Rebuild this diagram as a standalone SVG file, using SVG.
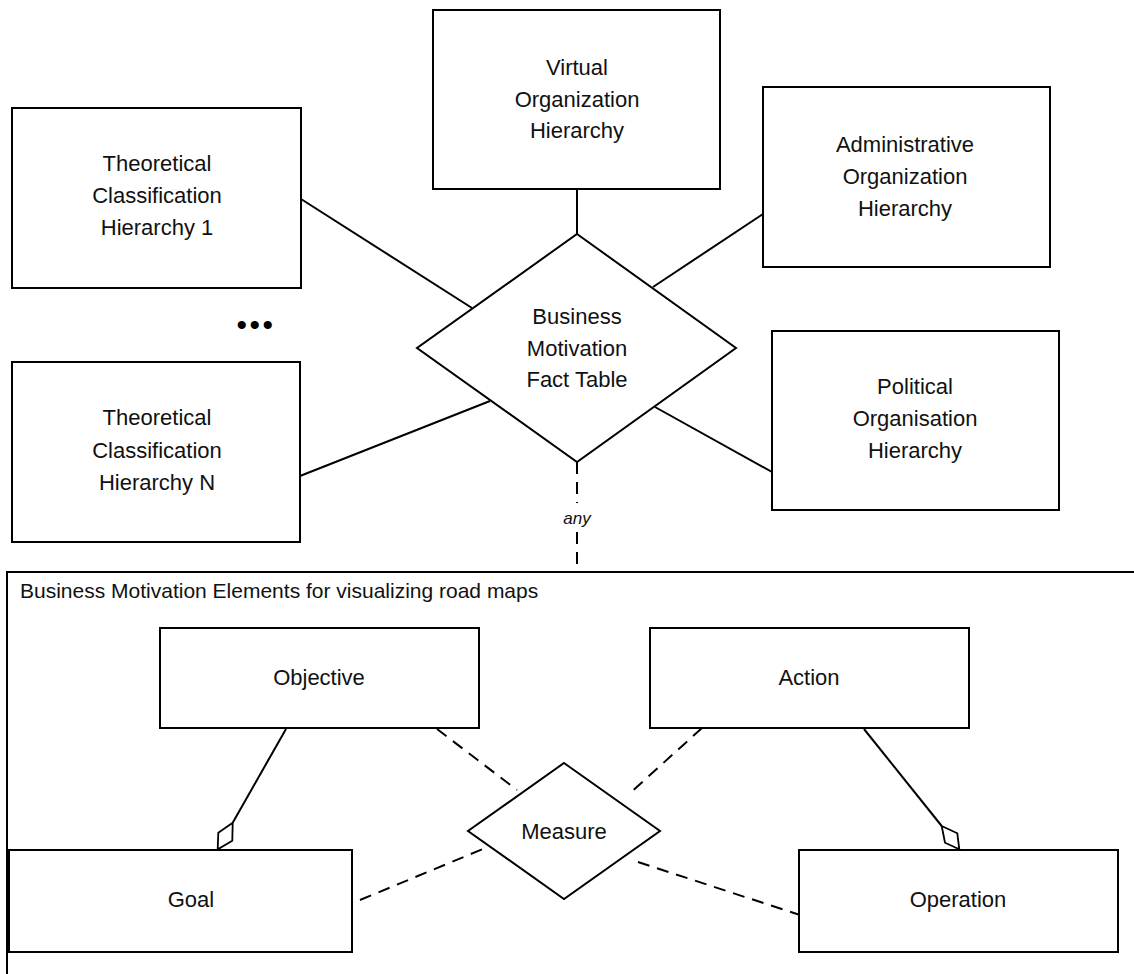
<svg xmlns="http://www.w3.org/2000/svg" width="1134" height="974" viewBox="0 0 1134 974">
  <style>
    .box { fill: #ffffff; stroke: #000000; stroke-width: 2; }
    .frame { fill: none; stroke: #000000; stroke-width: 2; }
    .link { fill: none; stroke: #000000; stroke-width: 2; }
    .dash { fill: none; stroke: #000000; stroke-width: 2; stroke-dasharray: 12 8; }
    .agg { fill: #ffffff; stroke: #000000; stroke-width: 1.8; stroke-linejoin: miter; }
    text { font-family: "Liberation Sans", Arial, sans-serif; font-size: 22px; fill: #111111; text-anchor: middle; }
    .title { text-anchor: start; font-size: 21px; }
    .any { font-style: italic; font-size: 17px; }
    .dots { font-size: 30px; letter-spacing: 2.5px; fill: #000000; }
  </style>

  <rect width="1134" height="974" fill="#ffffff"/>

  <!-- road-map frame (open to the right and bottom) -->
  <g id="roadmap-frame">
    <rect class="frame" x="7" y="572" width="1140" height="420"/>
    <text class="title" x="20" y="598">Business Motivation  Elements for visualizing road maps</text>
  </g>

  <!-- connectors -->
  <g id="connectors">
    <line class="link" x1="577" y1="189" x2="577" y2="234"/>
    <line class="link" x1="301" y1="199" x2="472" y2="308"/>
    <line class="link" x1="763" y1="214" x2="653" y2="287"/>
    <line class="link" x1="300" y1="476" x2="490" y2="401"/>
    <line class="link" x1="655" y1="407" x2="772" y2="472"/>
    <line class="dash" x1="577" y1="462" x2="577" y2="503"/>
    <line class="dash" x1="577" y1="532" x2="577" y2="572"/>
    <text class="any" x="577" y="524">any</text>

    <!-- aggregations inside the road-map frame -->
    <line class="link" x1="286" y1="729" x2="232.7" y2="822.7"/>
    <polygon class="agg" points="232.7,822.7 218.3,832.7 217.7,849.3 232.3,840.7"/>
    <line class="link" x1="864" y1="729" x2="941.7" y2="826"/>
    <polygon class="agg" points="941.7,826 957.3,833.3 959.3,849.3 945,842.7"/>

    <!-- measure links -->
    <line class="dash" x1="437" y1="729" x2="517" y2="790"/>
    <line class="dash" x1="702" y1="728" x2="629" y2="794"/>
    <line class="dash" x1="360" y1="900" x2="483" y2="849"/>
    <line class="dash" x1="638" y1="862" x2="800" y2="915"/>
  </g>

  <!-- upper star schema -->
  <g id="virtual-org">
    <rect class="box" x="433" y="10" width="287" height="179"/>
    <text x="577" y="75">Virtual</text>
    <text x="577" y="107">Organization</text>
    <text x="577" y="138">Hierarchy</text>
  </g>

  <g id="theoretical-1">
    <rect class="box" x="12" y="108" width="289" height="180"/>
    <text x="157" y="171">Theoretical</text>
    <text x="157" y="203">Classification</text>
    <text x="157" y="235">Hierarchy 1</text>
  </g>

  <g id="administrative-org">
    <rect class="box" x="763" y="87" width="287" height="180"/>
    <text x="905" y="152">Administrative</text>
    <text x="905" y="184">Organization</text>
    <text x="905" y="216">Hierarchy</text>
  </g>

  <g id="ellipsis">
    <text class="dots" x="256" y="335">•••</text>
  </g>

  <g id="fact-table">
    <polygon class="box" points="577,234 736,348 577,462 417,348"/>
    <text x="577" y="324">Business</text>
    <text x="577" y="356">Motivation</text>
    <text x="577" y="387">Fact Table</text>
  </g>

  <g id="theoretical-n">
    <rect class="box" x="12" y="362" width="288" height="180"/>
    <text x="157" y="425">Theoretical</text>
    <text x="157" y="458">Classification</text>
    <text x="157" y="490">Hierarchy N</text>
  </g>

  <g id="political-org">
    <rect class="box" x="772" y="331" width="287" height="179"/>
    <text x="915" y="394">Political</text>
    <text x="915" y="426">Organisation</text>
    <text x="915" y="458">Hierarchy</text>
  </g>

  <!-- road-map elements -->
  <g id="objective">
    <rect class="box" x="160" y="628" width="319" height="100"/>
    <text x="319" y="685">Objective</text>
  </g>

  <g id="action">
    <rect class="box" x="650" y="628" width="319" height="100"/>
    <text x="809" y="685">Action</text>
  </g>

  <g id="measure">
    <polygon class="box" points="564,763 660,831 564,899 468,831"/>
    <text x="564" y="839">Measure</text>
  </g>

  <g id="goal">
    <rect class="box" x="9" y="850" width="343" height="102"/>
    <text x="191" y="907">Goal</text>
  </g>

  <g id="operation">
    <rect class="box" x="799" y="850" width="319" height="102"/>
    <text x="958" y="907">Operation</text>
  </g>
</svg>
